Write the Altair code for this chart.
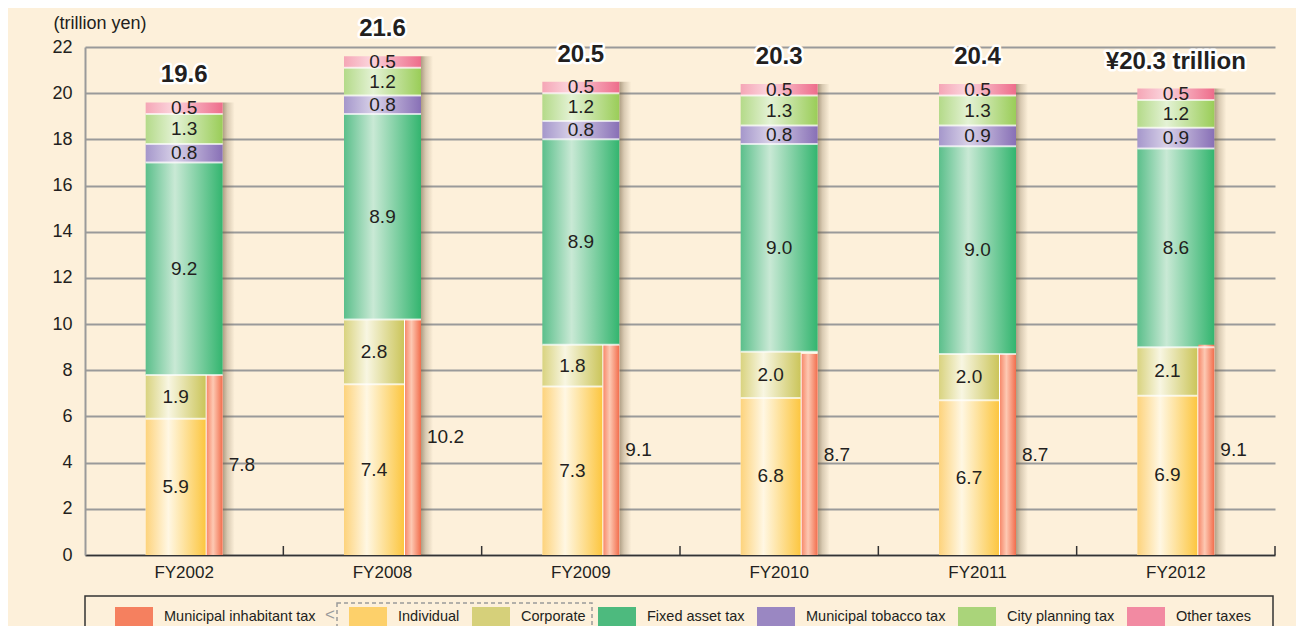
import altair as alt
import pandas as pd

# ---------------- data ----------------
categories = ["FY2002", "FY2008", "FY2009", "FY2010", "FY2011", "FY2012"]
individual = [5.9, 7.4, 7.3, 6.8, 6.7, 6.9]
corporate = [1.9, 2.8, 1.8, 2.0, 2.0, 2.1]
inhabitant = [7.8, 10.2, 9.1, 8.7, 8.7, 9.1]
fixed_asset = [9.2, 8.9, 8.9, 9.0, 9.0, 8.6]
tobacco = [0.8, 0.8, 0.8, 0.8, 0.9, 0.9]
city_planning = [1.3, 1.2, 1.2, 1.3, 1.3, 1.2]
other_taxes = [0.5, 0.5, 0.5, 0.5, 0.5, 0.5]
total_labels = ["19.6", "21.6", "20.5", "20.3", "20.4", "¥20.3 trillion"]
y_ticks = [0, 2, 4, 6, 8, 10, 12, 14, 16, 18, 20, 22]
legend_a_names = ["Municipal inhabitant tax"]
legend_b_names = ["Individual", "Corporate", "Fixed asset tax",
                  "Municipal tobacco tax", "City planning tax", "Other taxes"]

# ---------------- style ----------------
FONT = "Liberation Sans, Arial, sans-serif"
TXT = "#231f20"
BG = "#fdf0da"
W, H = 1190, 508
BAR_W = 77
NARROW_W = 60
NARROW_OFF = -8.5
INH_W = 16
INH_OFF = 30.5


def grad(c0, cm, c1, m=0.38):
    return {"gradient": "linear", "x1": 0, "x2": 1, "y1": 0, "y2": 0,
            "stops": [{"offset": 0, "color": c0}, {"offset": m, "color": cm},
                      {"offset": 1, "color": c1}]}


series_style = {
    "Individual": (grad("#fdd37c", "#fff7e3", "#fcc640"), NARROW_W, NARROW_OFF),
    "Corporate": (grad("#d9d37f", "#f8f6e2", "#cbc55a"), NARROW_W, NARROW_OFF),
    "Fixed asset tax": (grad("#5bbf8b", "#c9e9d5", "#33b56f"), BAR_W, 0),
    "Municipal tobacco tax": (grad("#a597cb", "#d8d1e8", "#8870b6"), BAR_W, 0),
    "City planning tax": (grad("#b4da89", "#e4f2d5", "#9acd58"), BAR_W, 0),
    "Other taxes": (grad("#f5a6b6", "#fbd4dc", "#ee6d8b", 0.35), BAR_W, 0),
}
inh_fill = grad("#f7896b", "#fdc9b3", "#f26d4c", 0.4)
legend_a_colors = ["#f5805f"]
legend_b_colors = ["#fdd06a", "#d6d07a", "#4dba7e", "#9a87c2", "#aad47a", "#f28aa2"]

stack_order = [("Individual", individual), ("Corporate", corporate),
               ("Fixed asset tax", fixed_asset), ("Municipal tobacco tax", tobacco),
               ("City planning tax", city_planning), ("Other taxes", other_taxes)]

rows = []
for i, c in enumerate(categories):
    base = 0.0
    for name, vals in stack_order:
        v = vals[i]
        rows.append(dict(cat=c, series=name, y0=base, y1=base + v,
                         mid=base + v / 2, label=f"{v:.1f}"))
        base += v
seg = pd.DataFrame(rows)

tot = pd.DataFrame({
    "cat": categories,
    "total": seg.groupby("cat", sort=False)["y1"].max().values,
    "label": total_labels,
})
inh = pd.DataFrame({
    "cat": categories,
    "v": inhabitant,
    "mid": [v / 2 for v in inhabitant],
    "label": [f"{v:.1f}" for v in inhabitant],
})

x_enc = alt.X("cat:N", sort=categories,
              scale=alt.Scale(paddingInner=0, paddingOuter=0),
              axis=alt.Axis(title=None, ticks=False, labelAngle=0, labelFont=FONT,
                            labelFontSize=17, labelColor=TXT, labelPadding=9,
                            domainColor="#333333", domainWidth=1.5, grid=False))
y_scale = alt.Scale(domain=[0, 22], nice=False)
y_axis = alt.Axis(values=y_ticks, title="(trillion yen)", titleAngle=0, titleAlign="left",
                  titleBaseline="alphabetic", titleX=-32, titleY=-19, titleFont=FONT,
                  titleFontSize=18, titleFontWeight="normal", titleColor=TXT,
                  labelFont=FONT, labelFontSize=18, labelColor=TXT, labelPadding=13,
                  ticks=False, domainColor="#9a9a9a", domainWidth=2,
                  grid=True, gridColor="#9a9a9a", gridWidth=2)

layers = []

# main axis-carrying layer: shadow to the right of each bar
shadow = alt.Chart(tot).mark_bar(
    width=12, xOffset=BAR_W / 2 + 6,
    color=grad("rgba(110,90,60,0.55)", "rgba(110,90,60,0.25)", "rgba(110,90,60,0)", 0.4)
).encode(
    x=x_enc,
    y=alt.Y("total:Q", scale=y_scale, axis=y_axis),
    y2=alt.datum(0),
)
layers.append(shadow)

# white backing for the lower part (gap between narrow bars and inhabitant bar)
backing = alt.Chart(inh).mark_bar(width=BAR_W, color="white").encode(
    x=alt.X("cat:N", sort=categories), y="v:Q", y2=alt.datum(0))
layers.append(backing)

for name, (fill, w, off) in series_style.items():
    layers.append(
        alt.Chart(seg[seg.series == name]).mark_bar(width=w, xOffset=off, color=fill)
        .encode(x=alt.X("cat:N", sort=categories), y="y1:Q", y2="y0:Q"))

layers.append(
    alt.Chart(inh).mark_bar(width=INH_W, xOffset=INH_OFF, color=inh_fill)
    .encode(x=alt.X("cat:N", sort=categories), y="v:Q", y2=alt.datum(0)))

# white separators between segments
layers.append(
    alt.Chart(seg[seg.series == "Individual"]).mark_tick(
        color="white", thickness=2, size=NARROW_W, xOffset=NARROW_OFF)
    .encode(x=alt.X("cat:N", sort=categories), y="y1:Q"))
layers.append(
    alt.Chart(seg[seg.series.isin(["Corporate", "Fixed asset tax", "Municipal tobacco tax",
                                    "City planning tax"])]).mark_tick(
        color="white", thickness=2, size=BAR_W)
    .encode(x=alt.X("cat:N", sort=categories), y="y1:Q"))

# segment labels
for name, (fill, w, off) in series_style.items():
    layers.append(
        alt.Chart(seg[seg.series == name]).mark_text(
            font=FONT, fontSize=19, color=TXT, xOffset=off, baseline="middle")
        .encode(x=alt.X("cat:N", sort=categories), y="mid:Q", text="label:N"))

# inhabitant labels to the right of the bar
layers.append(
    alt.Chart(inh).mark_text(font=FONT, fontSize=19, color=TXT, align="left",
                             xOffset=BAR_W / 2 + 6, baseline="middle")
    .encode(x=alt.X("cat:N", sort=categories), y="mid:Q", text="label:N"))

# totals with white halo
for halo in (True, False):
    kw = dict(stroke="white", strokeWidth=5, strokeJoin="round") if halo else {}
    layers.append(
        alt.Chart(tot).mark_text(font=FONT, fontSize=24, fontWeight="bold", color=TXT,
                                 dy=-27, baseline="middle", **kw)
        .encode(x=alt.X("cat:N", sort=categories), y="total:Q", text="label:N"))

# upward ticks at category boundaries
layers.append(
    alt.Chart(pd.DataFrame({"cat": categories})).mark_rule(
        color="#333333", strokeWidth=1.5, xOffset=W / len(categories) / 2)
    .encode(x=alt.X("cat:N", sort=categories), y=alt.value(H - 9), y2=alt.value(H)))

# legend frame, dashed group box and arrow
one = pd.DataFrame({"a": [0]})
layers.append(
    alt.Chart(one).mark_rect(fill=BG, stroke="#333333", strokeWidth=1.5)
    .encode(x=alt.value(0), x2=alt.value(1188), y=alt.value(549), y2=alt.value(620)))
layers.append(
    alt.Chart(one).mark_rect(fill=None, stroke="#9a9a9a", strokeWidth=1.5, strokeDash=[4, 3])
    .encode(x=alt.value(252), x2=alt.value(507), y=alt.value(556), y2=alt.value(590)))
layers.append(
    alt.Chart(one).mark_text(text="<", font=FONT, fontSize=17, color="#9a9a9a")
    .encode(x=alt.value(245), y=alt.value(568)))

legend_common = dict(
    title=None, orient="none", legendY=551, direction="horizontal",
    symbolType="M-1,-0.526H1V0.526H-1Z", symbolSize=1444, symbolStrokeWidth=0,
    labelFont=FONT, labelFontSize=14.5, labelColor=TXT, labelOffset=11,
    columnPadding=12, labelLimit=400, padding=0,
)

# legend A: municipal inhabitant tax (color scale)
layers.append(
    alt.Chart(pd.DataFrame({"series": legend_a_names})).mark_bar()
    .encode(x=alt.value(0), x2=alt.value(0), y=alt.value(0), y2=alt.value(0),
            color=alt.Color("series:N",
                            scale=alt.Scale(domain=legend_a_names, range=legend_a_colors),
                            legend=alt.Legend(legendX=30, columns=1, **legend_common))))

# legend B: the remaining taxes (fill scale)
layers.append(
    alt.Chart(pd.DataFrame({"series": legend_b_names})).mark_bar()
    .encode(x=alt.value(0), x2=alt.value(0), y=alt.value(0), y2=alt.value(0),
            fill=alt.Fill("series:N",
                          scale=alt.Scale(domain=legend_b_names, range=legend_b_colors),
                          legend=alt.Legend(legendX=264, columns=6, **legend_common))))

chart = alt.layer(*layers).properties(
    width=W, height=H, background=BG,
    padding={"left": 77, "top": 39, "right": 21, "bottom": 71},
    autosize=alt.AutoSizeParams(type="none"),
).configure_view(stroke=None)

chart.save("out.html", embed_options={"renderer": "svg", "actions": False})
